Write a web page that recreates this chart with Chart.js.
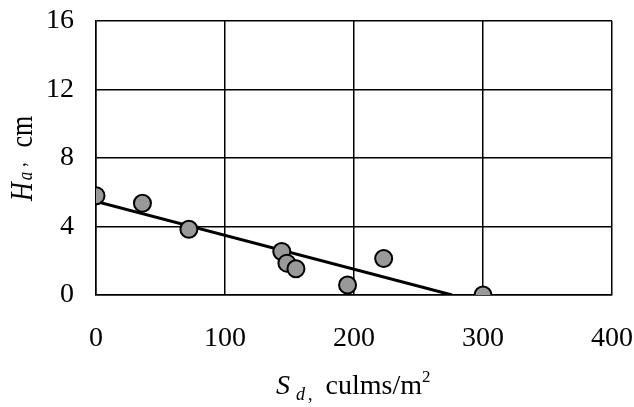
<!DOCTYPE html>
<html>
<head>
<meta charset="utf-8">
<script src="https://cdn.jsdelivr.net/npm/chart.js@4"></script>
<style>
  html, body { margin: 0; padding: 0; background: #fff; }
  #wrap { width: 634px; height: 407px; }
</style>
</head>
<body>
<div id="wrap"><canvas id="myChart" width="634" height="407"></canvas></div>
<script>
// measured points (shoot density vs. height)
const sdValues = [0, 36, 72, 144, 148, 155, 195, 223, 300];
const haValues = [5.8, 5.36, 3.84, 2.54, 1.86, 1.53, 0.58, 2.13, 0.0];

// fitted trend line end points
const fitX = [0, 276];
const fitY = [5.47, 0];

const xTicks = [0, 100, 200, 300, 400];
const yTicks = [0, 4, 8, 12, 16];

const serif = "'Liberation Serif', 'Times New Roman', serif";

// axis titles have sub/superscripts, so draw them by hand
const axisTitles = {
  id: "axisTitles",
  afterDraw(chart) {
    const ctx = chart.ctx;
    ctx.save();
    ctx.fillStyle = "#000";
    ctx.textBaseline = "alphabetic";
    ctx.textAlign = "left";

    const runs = (parts, x, y) => {
      parts.forEach((p) => {
        ctx.font = p.font;
        x += p.pre || 0;
        ctx.fillText(p.text, x, y + (p.dy || 0));
        x += ctx.measureText(p.text).width;
      });
    };

    // x title
    runs(
      [
        { text: "S", font: "italic 28px " + serif },
        { text: "d", font: "italic 18px " + serif, dy: 6, pre: 6 },
        { text: ",", font: "18px " + serif, dy: 6, pre: 3 },
        { text: "culms/m", font: "28px " + serif, pre: 13 },
        { text: "2", font: "17px " + serif, dy: -12 },
      ],
      276, 394
    );

    // y title, rotated
    ctx.translate(32, 201);
    ctx.rotate(-Math.PI / 2);
    ctx.scale(1, 1.25);
    runs(
      [
        { text: "H", font: "italic 26px " + serif },
        { text: "a", font: "italic 17px " + serif, pre: 2 },
        { text: ",", font: "17px " + serif, dy: -6, pre: 5 },
        { text: "cm", font: "26px " + serif, pre: 15 },
      ],
      0, 0
    );
    ctx.restore();
  },
};

const ctx = document.getElementById("myChart").getContext("2d");
new Chart(ctx, {
  type: "scatter",
  data: {
    datasets: [
      {
        label: "Measured",
        data: sdValues.map((x, i) => ({ x: x, y: haValues[i] })),
        backgroundColor: "#999999",
        borderColor: "#000000",
        borderWidth: 2,
        pointRadius: 8.5,
        showLine: false,
        order: 0,
      },
      {
        label: "Fit",
        data: fitX.map((x, i) => ({ x: x, y: fitY[i] })),
        borderColor: "#000000",
        borderWidth: 3,
        pointRadius: 0,
        showLine: true,
        order: 1,
      },
    ],
  },
  options: {
    responsive: false,
    animation: false,
    layout: { padding: { left: 0, top: 21, right: 22, bottom: 0 } },
    plugins: {
      legend: { display: false },
      tooltip: { enabled: false },
    },
    scales: {
      x: {
        type: "linear",
        min: 0,
        max: 400,
        afterFit: (scale) => {
          scale.height = 112;
          scale.paddingLeft = 0;
          scale.paddingRight = 0;
        },
        afterBuildTicks: (scale) => { scale.ticks = xTicks.map((v) => ({ value: v })); },
        grid: { color: "#000", lineWidth: 1.5, drawTicks: false },
        border: { color: "#000", width: 1.5 },
        ticks: {
          color: "#000",
          padding: 27,
          maxRotation: 0,
          font: { family: serif, size: 28 },
        },
      },
      y: {
        type: "linear",
        min: 0,
        max: 16,
        afterFit: (scale) => {
          scale.width = 96;
          scale.paddingTop = 0;
          scale.paddingBottom = 0;
        },
        afterBuildTicks: (scale) => { scale.ticks = yTicks.map((v) => ({ value: v })); },
        grid: { color: "#000", lineWidth: 1.5, drawTicks: false },
        border: { color: "#000", width: 1.5 },
        ticks: {
          color: "#000",
          padding: 22,
          font: { family: serif, size: 28 },
        },
      },
    },
  },
  plugins: [axisTitles],
});
</script>
</body>
</html>
